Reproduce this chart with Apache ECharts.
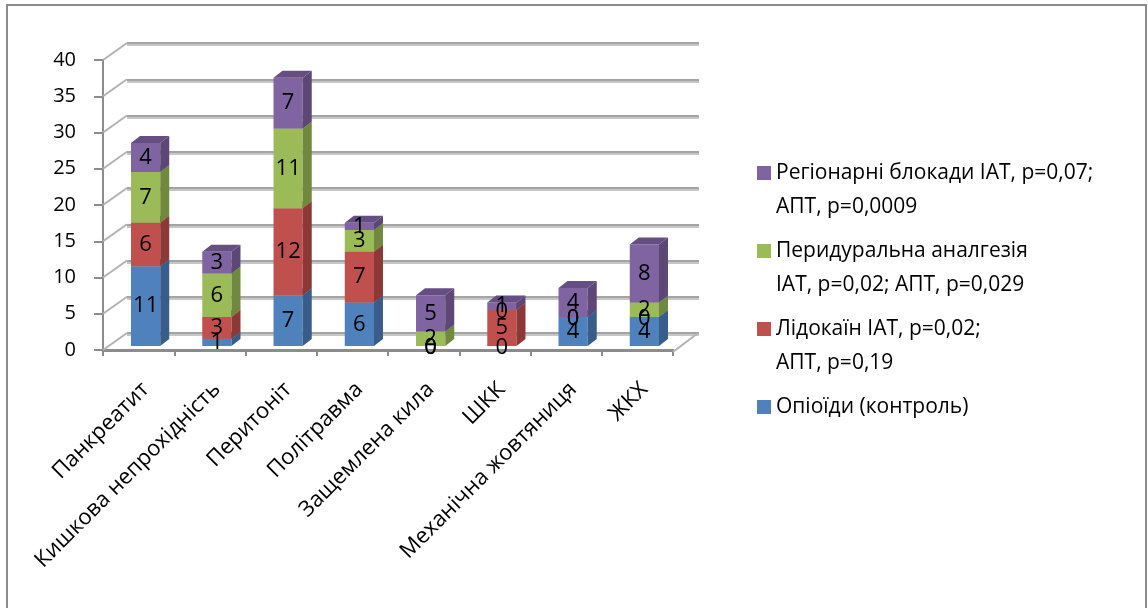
<!DOCTYPE html>
<html>
<head>
<meta charset="utf-8">
<script src="https://cdn.jsdelivr.net/npm/echarts@6/dist/echarts.min.js"></script>
<style>
  html, body { margin: 0; padding: 0; background: #fff; }
  #chart { width: 1148px; height: 608px; }
</style>
</head>
<body>
<div id="chart"></div>
<script>
// data
const categories = ['Панкреатит', 'Кишкова непрохідність', 'Перитоніт', 'Політравма',
  'Защемлена кила', 'ШКК', 'Механічна жовтяниця', 'ЖКХ']
const opioids = [11, 1, 7, 6, 0, 0, 4, 4]
const lidocaine = [6, 3, 12, 7, 0, 5, 0, 0]
const epidural = [7, 6, 11, 3, 2, 0, 0, 2]
const blocks = [4, 3, 7, 1, 5, 1, 4, 8]
const yTicks = [0, 5, 10, 15, 20, 25, 30, 35, 40]

const seriesNames = [
  'Опіоїди (контроль)',
  'Лідокаїн ІАТ, p=0,02;\nАПТ, p=0,19',
  'Перидуральна аналгезія\nІАТ, p=0,02; АПТ, p=0,029',
  'Регіонарні блокади ІАТ, p=0,07;\nАПТ, p=0,0009',
]
const seriesValues = [opioids, lidocaine, epidural, blocks]

// front / side / top colours of the 3d boxes
const faces = [
  { front: '#4f81bd', side: '#385d8a', top: '#3f6797' },
  { front: '#c0504d', side: '#8c3836', top: '#9a3e3b' },
  { front: '#9bbb59', side: '#71893f', top: '#7c9646' },
  { front: '#8064a2', side: '#5c4776', top: '#654f82' },
]

const FONT = 'Open Sans'
const WALL_DX = 24, WALL_DY = 17     // depth offset of the back wall
const BAR_DX = 7, BAR_DY = -4        // bars sit a bit behind the front plane
const BOX_DX = 9, BOX_DY = 7         // depth of each bar

function barSeries(k) {
  const data = seriesValues[k].map((v, i) => {
    let start = 0
    for (let j = 0; j < k; j++) start += seriesValues[j][i]
    return [i, start, v]
  })
  const c = faces[k]
  return {
    name: seriesNames[k],
    type: 'custom',
    xAxisIndex: 0,
    yAxisIndex: 0,
    itemStyle: { color: c.front },
    data,
    renderItem(params, api) {
      const i = api.value(0), s = api.value(1), v = api.value(2)
      const p0 = api.coord([i, s])
      const p1 = api.coord([i, s + v])
      const bw = api.size([1, 0])[0] * 0.41
      const x0 = p0[0] - bw / 2 + BAR_DX
      const x1 = x0 + bw
      const yb = p0[1] + BAR_DY
      const yt = p1[1] + BAR_DY
      const children = []
      if (v > 0) {
        children.push({
          type: 'rect',
          shape: { x: x0, y: yt, width: bw, height: yb - yt },
          style: { fill: c.front },
        })
        children.push({
          type: 'polygon',
          shape: { points: [[x1, yb], [x1 + BOX_DX, yb - BOX_DY], [x1 + BOX_DX, yt - BOX_DY], [x1, yt]] },
          style: { fill: c.side },
        })
        children.push({
          type: 'polygon',
          shape: { points: [[x0, yt], [x1, yt], [x1 + BOX_DX, yt - BOX_DY], [x0 + BOX_DX, yt - BOX_DY]] },
          style: { fill: c.top },
        })
      }
      children.push({
        type: 'text',
        z2: 100,
        style: {
          x: (x0 + x1) / 2,
          y: (yb + yt) / 2 + (v === 0 ? 2 : 0),
          text: String(v),
          align: 'center',
          verticalAlign: 'middle',
          font: '22px "' + FONT + '"',
          fill: '#000',
        },
      })
      return { type: 'group', children }
    },
  }
}

// diagonal lines joining the front axis ticks to the back wall grid lines
const wallSeries = {
  type: 'custom',
  xAxisIndex: 0,
  yAxisIndex: 0,
  silent: true,
  z: 1,
  data: yTicks.map((t) => [0, t]),
  renderItem(params, api) {
    const cs = params.coordSys
    const y = api.coord([0, api.value(1)])[1]
    const children = [{
      type: 'line',
      shape: { x1: cs.x, y1: y, x2: cs.x + WALL_DX, y2: y - WALL_DY },
      style: { stroke: '#b2b2b2', lineWidth: 2 },
    }]
    if (api.value(1) === 0) {
      const xr = cs.x + cs.width
      children.push({
        type: 'line',
        shape: { x1: xr, y1: y + 2, x2: xr + WALL_DX + 1, y2: y - WALL_DY },
        style: { stroke: '#b2b2b2', lineWidth: 2 },
      })
    }
    return { type: 'group', children }
  },
}

const chart = echarts.init(document.getElementById('chart'), null, { renderer: 'canvas' })

chart.setOption({
  backgroundColor: '#fff',
  animation: false,
  textStyle: { fontFamily: FONT },
  graphic: [{
    type: 'rect',
    shape: { x: 7, y: 5, width: 1139, height: 620 },
    style: { fill: 'none', stroke: '#8c8c8c', lineWidth: 2 },
    silent: true,
  }],
  grid: [
    { left: 103, top: 60, width: 570, height: 290 },  // front plane
    { left: 127, top: 43, width: 572, height: 290 },  // back wall
    { left: 110, top: 60, width: 570, height: 290 },  // category labels on the floor
  ],
  xAxis: [
    {
      type: 'category',
      gridIndex: 0,
      data: categories,
      offset: 2,
      axisLine: { lineStyle: { color: '#8c8c8c', width: 3 } },
      axisTick: { show: true, interval: 0, length: 6, lineStyle: { color: '#8c8c8c', width: 2 } },
      axisLabel: { show: false },
      splitLine: { show: false },
    },
    {
      type: 'category',
      gridIndex: 1,
      data: categories,
      show: false,
    },
    {
      type: 'category',
      gridIndex: 2,
      data: categories,
      axisLine: { show: false },
      axisTick: { show: false },
      splitLine: { show: false },
      axisLabel: {
        interval: 0,
        rotate: 45,
        margin: 36,
        fontFamily: FONT,
        fontSize: 22,
        color: '#000',
      },
    },
  ],
  yAxis: [
    {
      type: 'value',
      gridIndex: 0,
      min: 0,
      max: 40,
      interval: 5,
      axisLine: { show: true, lineStyle: { color: '#8c8c8c', width: 2 } },
      axisTick: { show: true, length: 9, lineStyle: { color: '#8c8c8c', width: 2 } },
      splitLine: { show: false },
      axisLabel: { margin: 27, fontFamily: FONT, fontSize: 20, color: '#000' },
    },
    {
      type: 'value',
      gridIndex: 1,
      min: 0,
      max: 40,
      interval: 5,
      axisLine: { show: false },
      axisTick: { show: false },
      axisLabel: { show: false },
      splitLine: {
        show: true,
        lineStyle: { color: '#a4a4a4', width: 2, shadowColor: '#c6c6c6', shadowOffsetY: 2, shadowBlur: 0 },
      },
    },
    {
      type: 'value',
      gridIndex: 2,
      min: 0,
      max: 40,
      show: false,
    },
  ],
  legend: {
    orient: 'vertical',
    left: 757,
    top: 122,
    padding: 0,
    itemGap: -24,
    itemWidth: 14,
    itemHeight: 14,
    icon: 'rect',
    selectedMode: false,
    data: [seriesNames[3], seriesNames[2], seriesNames[1], seriesNames[0]],
    formatter: (name) => (name.indexOf('\n') >= 0 ? '\n' + name : '\n' + name + '\n'),
    textStyle: { fontFamily: FONT, fontSize: 21, lineHeight: 34, color: '#000' },
  },
  series: [wallSeries, barSeries(0), barSeries(1), barSeries(2), barSeries(3)],
})
</script>
</body>
</html>
